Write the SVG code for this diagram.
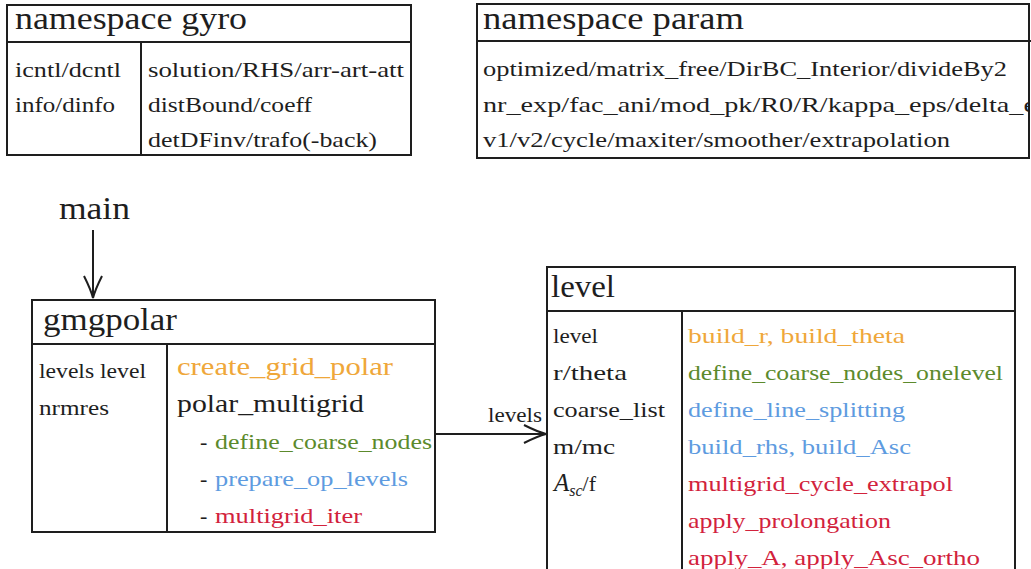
<svg xmlns="http://www.w3.org/2000/svg" width="1031" height="569" viewBox="0 0 1031 569" font-family="'Liberation Serif', 'DejaVu Serif', serif">
<style>
.box{fill:#fff;stroke:#1e1e1e;stroke-width:2}
.ln{stroke:#1e1e1e;stroke-width:2;fill:none}
text{fill:#1e1e1e}
.t{font-size:31px}
.b{font-size:22px}
.m{font-size:25px}
.or{fill:#EFA73A}
.gr{fill:#5C8A2C}
.bl{fill:#5E9BE0}
.rd{fill:#D2223C}
</style>
<defs>
<marker id="arr" markerUnits="userSpaceOnUse" markerWidth="30" markerHeight="24" viewBox="-26 -12 30 24" refX="0" refY="0" orient="auto">
<path d="M -22 -9 Q -8 -2 0 0 Q -8 2 -22 9" fill="none" stroke="#1e1e1e" stroke-width="2"/>
</marker>
<clipPath id="pclip"><rect x="477" y="0" width="552" height="165"/></clipPath>
</defs>

<g id="gyro">
<rect class="box" x="7" y="5" width="404" height="150"/>
<line class="ln" x1="7" y1="42" x2="411" y2="42"/>
<line class="ln" x1="141" y1="42" x2="141" y2="155"/>
<text class="t" x="15" y="29" textLength="232" lengthAdjust="spacingAndGlyphs">namespace gyro</text>
<text class="b" x="15" y="77" textLength="106" lengthAdjust="spacingAndGlyphs">icntl/dcntl</text>
<text class="b" x="15" y="112" textLength="100" lengthAdjust="spacingAndGlyphs">info/dinfo</text>
<text class="b" x="148" y="77" textLength="256" lengthAdjust="spacingAndGlyphs">solution/RHS/arr-art-att</text>
<text class="b" x="148" y="112" textLength="164" lengthAdjust="spacingAndGlyphs">distBound/coeff</text>
<text class="b" x="148" y="147" textLength="229" lengthAdjust="spacingAndGlyphs">detDFinv/trafo(-back)</text>
</g>

<g id="param">
<rect class="box" x="477" y="4" width="552" height="154"/>
<line class="ln" x1="477" y1="41" x2="1031" y2="41"/>
<text class="t" x="483" y="29" textLength="261" lengthAdjust="spacingAndGlyphs">namespace param</text>
<g clip-path="url(#pclip)">
<text class="b" x="483" y="76" textLength="524" lengthAdjust="spacingAndGlyphs">optimized/matrix_free/DirBC_Interior/divideBy2</text>
<text class="b" x="483" y="112" textLength="553" lengthAdjust="spacingAndGlyphs">nr_exp/fac_ani/mod_pk/R0/R/kappa_eps/delta_e</text>
<text class="b" x="483" y="147" textLength="467" lengthAdjust="spacingAndGlyphs">v1/v2/cycle/maxiter/smoother/extrapolation</text>
</g>
<line class="ln" x1="1029" y1="4" x2="1029" y2="158"/>
</g>

<g id="main">
<text class="t" x="59" y="219" textLength="71" lengthAdjust="spacingAndGlyphs">main</text>
</g>

<g id="gmgpolar">
<rect class="box" x="32" y="300" width="403" height="232"/>
<line class="ln" x1="32" y1="344" x2="435" y2="344"/>
<line class="ln" x1="167" y1="344" x2="167" y2="532"/>
<text class="t" x="43" y="330" textLength="134" lengthAdjust="spacingAndGlyphs">gmgpolar</text>
<text class="b" x="39" y="378" textLength="107" lengthAdjust="spacingAndGlyphs">levels level</text>
<text class="b" x="39" y="415" textLength="70" lengthAdjust="spacingAndGlyphs">nrmres</text>
<text class="m or" x="177" y="375" textLength="216" lengthAdjust="spacingAndGlyphs">create_grid_polar</text>
<text class="m" x="177" y="412" textLength="187" lengthAdjust="spacingAndGlyphs">polar_multigrid</text>
<text class="b" x="200" y="449">-</text>
<text class="b gr" x="215" y="449" textLength="217" lengthAdjust="spacingAndGlyphs">define_coarse_nodes</text>
<text class="b" x="200" y="486">-</text>
<text class="b bl" x="215" y="486" textLength="193" lengthAdjust="spacingAndGlyphs">prepare_op_levels</text>
<text class="b" x="200" y="523">-</text>
<text class="b rd" x="215" y="523" textLength="147" lengthAdjust="spacingAndGlyphs">multigrid_iter</text>
</g>

<g id="level">
<rect class="box" x="547" y="267" width="468" height="320"/>
<line class="ln" x1="547" y1="311" x2="1015" y2="311"/>
<line class="ln" x1="682" y1="311" x2="682" y2="580"/>
<text class="t" x="551" y="297" textLength="64" lengthAdjust="spacingAndGlyphs">level</text>
<text class="b" x="553" y="343" textLength="45" lengthAdjust="spacingAndGlyphs">level</text>
<text class="b" x="553" y="380" textLength="74" lengthAdjust="spacingAndGlyphs">r/theta</text>
<text class="b" x="553" y="417" textLength="112" lengthAdjust="spacingAndGlyphs">coarse_list</text>
<text class="b" x="553" y="454" textLength="62" lengthAdjust="spacingAndGlyphs">m/mc</text>
<text class="b" x="554" y="491"><tspan font-style="italic" font-size="25">A</tspan><tspan font-style="italic" font-size="16" dy="5">sc</tspan><tspan dy="-5">/f</tspan></text>
<text class="b or" x="688" y="343" textLength="217" lengthAdjust="spacingAndGlyphs">build_r, build_theta</text>
<text class="b gr" x="688" y="380" textLength="315" lengthAdjust="spacingAndGlyphs">define_coarse_nodes_onelevel</text>
<text class="b bl" x="688" y="417" textLength="217" lengthAdjust="spacingAndGlyphs">define_line_splitting</text>
<text class="b bl" x="688" y="454" textLength="223" lengthAdjust="spacingAndGlyphs">build_rhs, build_Asc</text>
<text class="b rd" x="688" y="491" textLength="265" lengthAdjust="spacingAndGlyphs">multigrid_cycle_extrapol</text>
<text class="b rd" x="688" y="528" textLength="203" lengthAdjust="spacingAndGlyphs">apply_prolongation</text>
<text class="b rd" x="688" y="565" textLength="292" lengthAdjust="spacingAndGlyphs">apply_A, apply_Asc_ortho</text>
</g>

<g id="connectors">
<line class="ln" x1="93" y1="230" x2="93" y2="298" marker-end="url(#arr)"/>
<line class="ln" x1="435" y1="434" x2="546" y2="434" marker-end="url(#arr)"/>
<text class="b" x="488" y="422" textLength="54" lengthAdjust="spacingAndGlyphs">levels</text>
</g>
</svg>
